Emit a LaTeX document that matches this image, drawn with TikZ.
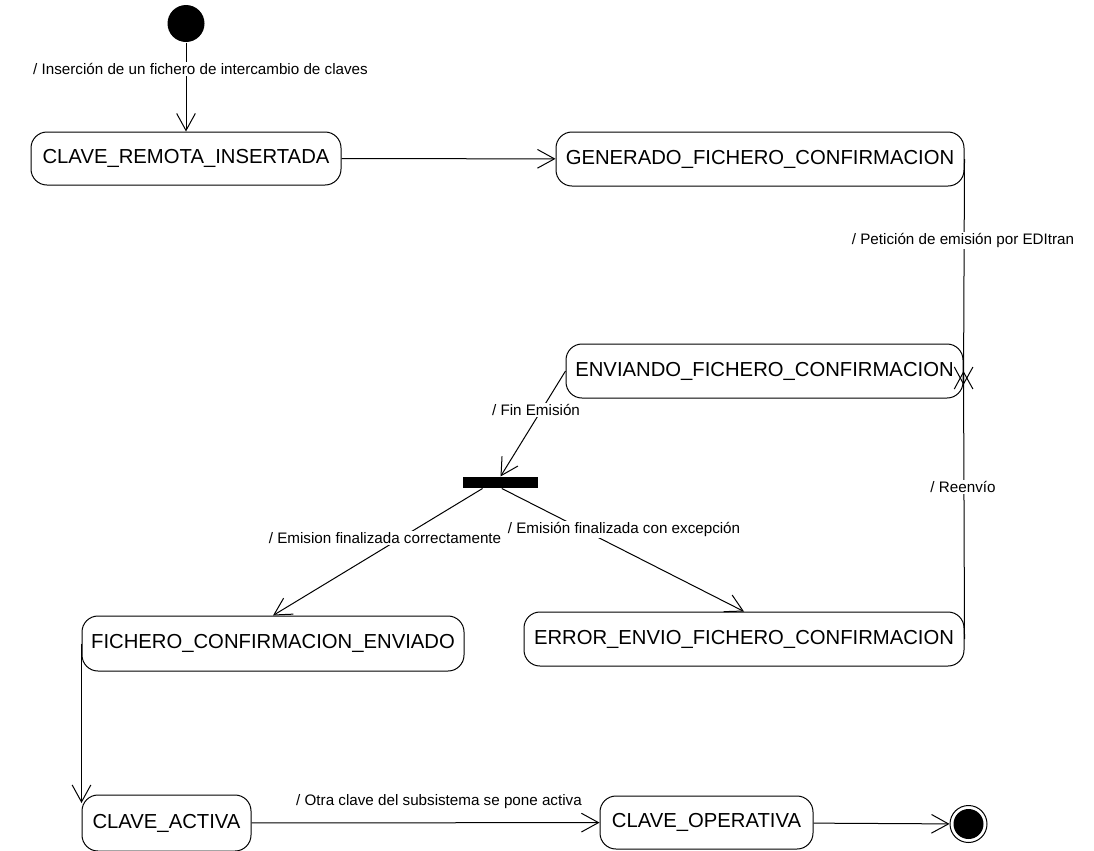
\documentclass[tikz,border=0pt]{standalone}
\usepackage{fontspec}
\setmainfont{Liberation Sans}
\usetikzlibrary{arrows.meta}

\tikzset{every picture/.style={line width=0.75pt}}
\tikzset{
  state/.style={draw, rounded corners=12pt, inner sep=0pt, font=\fontsize{15.2}{18}\selectfont},
  lbl/.style={fill=white, inner sep=1pt, font=\fontsize{11.4}{13}\selectfont},
  trans/.style={-{Straight Barb[length=12.75pt,width=14pt]}},
  finalstate/.style={circle, draw, minimum size=27.75pt, inner sep=0pt,
    path picture={\fill[black] (path picture bounding box.center) circle (11.25pt);}},
}

\begin{document}
\begin{tikzpicture}[x=0.75pt,y=0.75pt,yscale=-1,xscale=1]
\useasboundingbox (0,0) rectangle (1094,850);

%Shape: Circle [id:initial]
\node[circle, fill=black, minimum size=27.75pt, inner sep=0pt] (init) at (186,23.5) {};
%Shape: Circle [id:final]
\node[finalstate] (fin) at (968.5,824) {};

%Shape: Bar [id:fork]
\node[fill=black, minimum width=56.25pt, minimum height=8.25pt, inner sep=0pt] (bar) at (500.5,482.5) {};

%Shape: Rounded Rect [id:states]
\node[state, minimum width=232.5pt, minimum height=39.75pt] (remota) at (186,158.5) {CLAVE\_REMOTA\_INSERTADA};
\node[state, minimum width=306pt, minimum height=40.5pt] (generado) at (760,159) {GENERADO\_FICHERO\_CONFIRMACION};
\node[state, minimum width=297.75pt, minimum height=40.5pt] (enviando) at (764.5,371) {ENVIANDO\_FICHERO\_CONFIRMACION};
\node[state, minimum width=286.5pt, minimum height=41.25pt] (fichero) at (273,643.5) {FICHERO\_CONFIRMACION\_ENVIADO};
\node[state, minimum width=330pt, minimum height=40.5pt] (error) at (744,639) {ERROR\_ENVIO\_FICHERO\_CONFIRMACION};
\node[state, minimum width=126.75pt, minimum height=42pt] (activa) at (166.5,823) {CLAVE\_ACTIVA};
\node[state, minimum width=159.75pt, minimum height=39.75pt] (operativa) at (706.5,822.5) {CLAVE\_OPERATIVA};

%Straight Lines [id:transitions]
\draw[trans] (init) -- (remota);
\draw[trans] (remota) -- (generado);
\draw[trans] (generado.east) -- ([yshift=10.5pt]enviando.east);
\draw[trans] (error.east) -- (enviando.east);
\draw[trans] (enviando.west) -- (bar.north);
\draw[trans] ([xshift=-13.5pt]bar.south) -- (fichero.north);
\draw[trans] ([xshift=1pt]bar.south) -- (error.north);
\draw[trans] (fichero.west) -- ([yshift=-15pt]activa.west);
\draw[trans] (activa) -- (operativa);
\draw[trans] (operativa) -- (fin);

% Text Node
\node[lbl] (t1) at (200.5,69) {/ Inserción de un fichero de intercambio de claves};
% Text Node
\node[lbl] (t2) at (963,240) {/ Petición de emisión por EDItran};
% Text Node
\node[lbl] (t3) at (536,410) {/ Fin Emisión};
% Text Node
\node[lbl] (t4) at (963,487) {/ Reenvío};
% Text Node
\node[lbl] (t5) at (385,538) {/ Emision finalizada correctamente};
% Text Node
\node[lbl] (t6) at (624,529) {/ Emisión finalizada con excepción};
% Text Node
\node[lbl] (t7) at (439,802) {/ Otra clave del subsistema se pone activa};

\end{tikzpicture}
\end{document}
